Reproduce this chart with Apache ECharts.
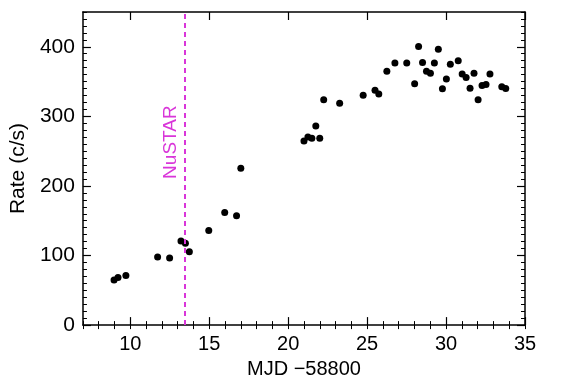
<!DOCTYPE html>
<html>
<head>
<meta charset="utf-8">
<script src="https://cdn.jsdelivr.net/npm/echarts@6/dist/echarts.min.js"></script>
<style>html,body{margin:0;padding:0;background:#fff}#c{width:568px;height:384px}</style>
</head>
<body>
<div id="c"></div>
<script>
// Data (MJD - 58800, rate c/s)
const mjd = [8.97, 9.22, 9.72, 11.73, 12.49, 13.21, 13.49, 13.74, 14.97, 15.98, 16.73, 17.0,
  21.0, 21.25, 21.5, 21.75, 22.0, 22.25, 23.26, 24.75, 25.5, 25.74, 26.25, 26.76, 27.51,
  28.01, 28.26, 28.51, 28.76, 29.01, 29.26, 29.51, 29.77, 30.02, 30.27, 30.77, 31.02,
  31.27, 31.52, 31.77, 32.03, 32.28, 32.53, 32.78, 33.53, 33.78];
const rate = [64.7, 68.4, 71.2, 97.9, 96.4, 121, 117.8, 105.4, 135.9, 162, 157.3, 225.6,
  264.5, 270.2, 268.4, 286.3, 268.4, 323.9, 318.7, 330.5, 337.6, 332, 364.7, 376.6, 376.6,
  346.7, 400.3, 377.5, 364.7, 361.8, 376.6, 396.6, 339.6, 353.8, 375, 379.9, 361,
  355.7, 340.5, 361.8, 323.9, 344.3, 345.7, 361, 342.4, 340];
const xTicks = [10, 15, 20, 25, 30, 35];
const yTicks = [0, 100, 200, 300, 400];
const nustarX = 13.43;
const nustarLabel = 'NuSTAR';
const xName = 'MJD \u221258800';
const yName = 'Rate (c/s)';

const X_MIN = 7, X_MAX = 35, Y_MIN = 0, Y_MAX = 450;
const FONT = '"Liberation Sans", Arial, sans-serif';
const magenta = '#d936d9';

const chart = echarts.init(document.getElementById('c'), null, {renderer: 'canvas'});
const lineStyle = {color: '#000', width: 1.5};

function xAxisBase(pos, extra) {
  return Object.assign({
    type: 'value', gridIndex: 0, position: pos, min: X_MIN, max: X_MAX,
    splitLine: {show: false}, axisLine: {show: true, onZero: false, lineStyle: lineStyle}
  }, extra);
}
function yAxisBase(pos, extra) {
  return Object.assign({
    type: 'value', gridIndex: 0, position: pos, min: Y_MIN, max: Y_MAX,
    splitLine: {show: false}, axisLine: {show: true, onZero: false, lineStyle: lineStyle}
  }, extra);
}

const majorX = {show: true, inside: true, length: 8, lineStyle: {color: '#000', width: 1.2}, customValues: xTicks};
const minorX = {show: true, inside: true, length: 4, interval: 0, lineStyle: {color: '#000', width: 1}};
const majorY = {show: true, inside: true, length: 8, lineStyle: {color: '#000', width: 1.2}, customValues: yTicks};
const minorY = {show: true, inside: true, length: 4, interval: 0, lineStyle: {color: '#000', width: 1}};

const option = {
  animation: false,
  backgroundColor: '#fff',
  grid: {left: 79, right: 43, top: 12, bottom: 56, containLabel: false},
  xAxis: [
    xAxisBase('bottom', {
      name: xName, nameLocation: 'middle', nameGap: 31,
      nameTextStyle: {fontFamily: FONT, fontSize: 20, color: '#000'},
      axisTick: majorX,
      axisLabel: {show: true, customValues: xTicks, margin: 9, fontFamily: FONT, fontSize: 20, color: '#000'}
    }),
    xAxisBase('top', {axisTick: Object.assign({}, majorX), axisLabel: {show: false}}),
    xAxisBase('bottom', {interval: 1, axisLine: {show: false}, axisTick: minorX, axisLabel: {show: false}}),
    xAxisBase('top', {interval: 1, axisLine: {show: false}, axisTick: minorX, axisLabel: {show: false}})
  ],
  yAxis: [
    yAxisBase('left', {
      name: yName, nameLocation: 'middle', nameGap: 52, nameRotate: 90,
      nameTextStyle: {fontFamily: FONT, fontSize: 21, color: '#000'},
      axisTick: majorY,
      axisLabel: {show: true, customValues: yTicks, margin: 8, fontFamily: FONT, fontSize: 21, color: '#000'}
    }),
    yAxisBase('right', {axisTick: Object.assign({}, majorY), axisLabel: {show: false}}),
    yAxisBase('left', {interval: 10, axisLine: {show: false}, axisTick: minorY, axisLabel: {show: false}}),
    yAxisBase('right', {interval: 10, axisLine: {show: false}, axisTick: minorY, axisLabel: {show: false}})
  ],
  series: [
    {
      type: 'scatter', xAxisIndex: 0, yAxisIndex: 0,
      data: mjd.map((x, i) => [x, rate[i]]),
      symbol: 'circle', symbolSize: 7,
      itemStyle: {color: '#000', opacity: 1},
      markLine: {
        silent: true, symbol: 'none', animation: false,
        lineStyle: {color: magenta, width: 2, type: [5, 4], opacity: 1},
        label: {show: false},
        data: [{xAxis: nustarX}]
      }
    }
  ]
};
chart.setOption(option);

// NuSTAR annotation placed via the chart's own coordinate conversion
const p = chart.convertToPixel({xAxisIndex: 0, yAxisIndex: 0}, [nustarX, 263]);
chart.setOption({
  graphic: [{
    type: 'text', x: p[0] - 14, y: p[1], rotation: Math.PI / 2,
    style: {text: nustarLabel, fill: magenta, font: '19px ' + FONT, align: 'center', verticalAlign: 'middle'}
  }]
});
</script>
</body>
</html>
